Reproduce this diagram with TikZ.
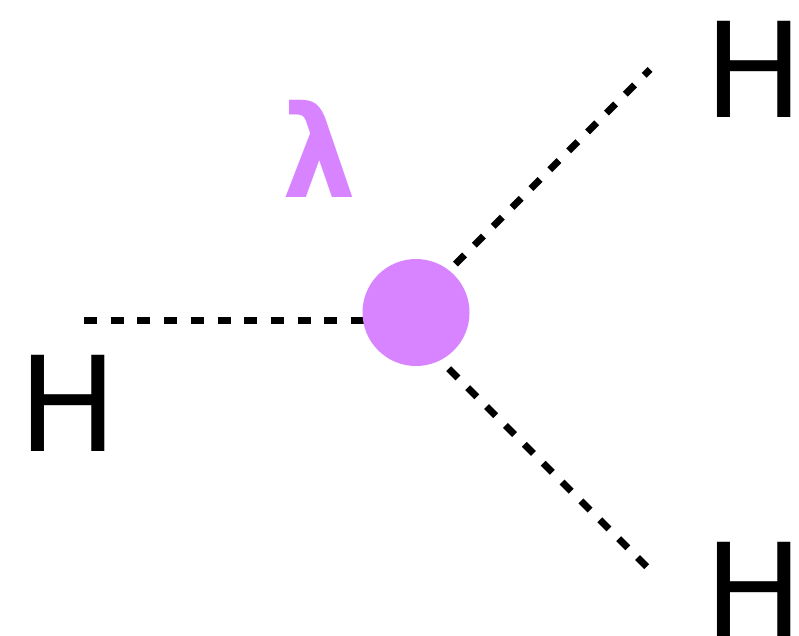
\documentclass[tikz,border=0pt]{standalone}
\usepackage{fontspec}
\setmainfont{DejaVu Sans}
\definecolor{vtxcol}{HTML}{D883FF}

\begin{document}
\begin{tikzpicture}[x=1pt,y=-1pt,
    higgs/.style={line width=7pt, dash pattern=on 13pt off 13.7pt},
    lbl/.style={inner sep=0pt, font=\fontsize{132}{132}\selectfont}]
    \useasboundingbox (0,0) rectangle (799,635);

    \coordinate (c) at (416,312.5);
    \coordinate (l1) at (84,320.7);
    \coordinate (u0) at (416,303.5);
    \coordinate (u1) at (650,69.5);
    \coordinate (d0) at (416,336);
    \coordinate (d1) at (648,568);

    % dashed legs first, the vertex covers them
    \draw[higgs] (l1) -- (l1 -| c);
    \draw[higgs, dash phase=24.4pt] (u0) -- (u1);
    \draw[higgs, dash phase=7.1pt] (d0) -- (d1);

    \node [circle, fill=vtxcol, minimum size=107pt, inner sep=0pt] (v) at (c) {};
    \node [lbl, text=vtxcol, font=\fontsize{128}{128}\selectfont\bfseries,
        xscale=0.91, transform shape] (lam) at (319,149) {λ};

    \node [lbl] (hl) at (68.5,403) {H};
    \node [lbl] (hu) at (754,69.5) {H};
    \node [lbl] (hd) at (754,590) {H};
\end{tikzpicture}
\end{document}
